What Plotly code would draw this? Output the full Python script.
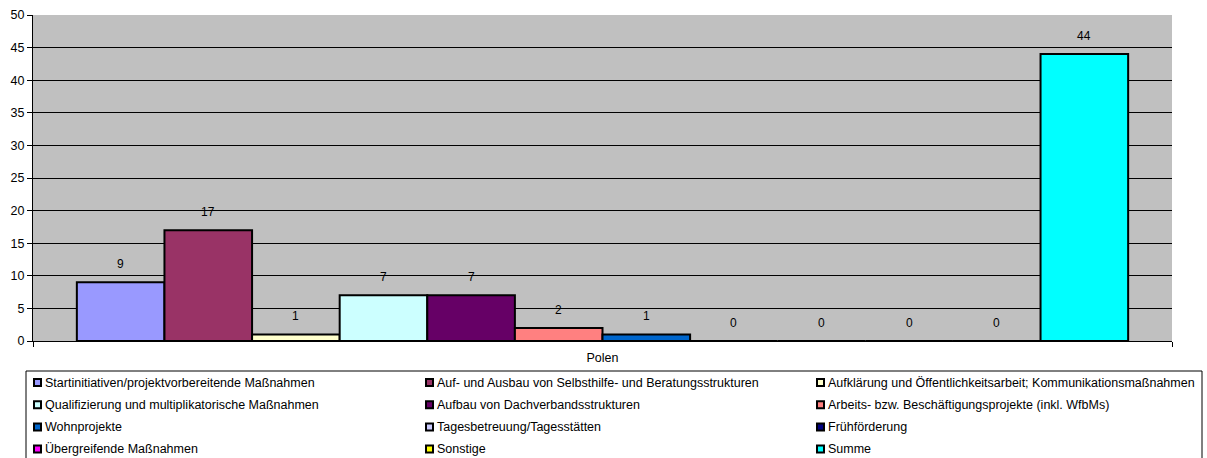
import plotly.graph_objects as go

category = ["Polen"]
series_names = [
    "Startinitiativen/projektvorbereitende Maßnahmen",
    "Auf- und Ausbau von Selbsthilfe- und Beratungsstrukturen",
    "Aufklärung und Öffentlichkeitsarbeit; Kommunikationsmaßnahmen",
    "Qualifizierung und multiplikatorische Maßnahmen",
    "Aufbau von Dachverbandsstrukturen",
    "Arbeits- bzw. Beschäftigungsprojekte (inkl. WfbMs)",
    "Wohnprojekte",
    "Tagesbetreuung/Tagesstätten",
    "Frühförderung",
    "Übergreifende Maßnahmen",
    "Sonstige",
    "Summe",
]
values = [9, 17, 1, 7, 7, 2, 1, 0, 0, 0, 0, 44]
colors = ["#9999FF", "#993366", "#FFFFCC", "#CCFFFF", "#660066", "#FF8080",
          "#0066CC", "#CCCCFF", "#000080", "#FF00FF", "#FFFF00", "#00FFFF"]
y_ticks = [0, 5, 10, 15, 20, 25, 30, 35, 40, 45, 50]

FONT = "Liberation Sans, Arial, sans-serif"
FS = 12.5
BARGAP = 0.077

W, H = 1207, 458
L, R, T, B = 33, 35, 15, 117
PW, PH = W - L - R, H - T - B


def px_x(p):
    return (p - L) / PW


def px_y(p):
    return (H - B - p) / PH


fig = go.Figure()
for name, v, c in zip(series_names, values, colors):
    fig.add_trace(go.Bar(
        x=category, y=[v], name=name, showlegend=False,
        marker=dict(color=c, line=dict(color="black", width=2)),
    ))

# value labels above each bar (group slot centres on the category axis)
n = len(values)
slot = (1 - BARGAP) / n
for i, v in enumerate(values):
    fig.add_annotation(
        x=-0.5 + BARGAP / 2 + slot * (i + 0.5), y=v, xref="x", yref="y",
        text=str(v), showarrow=False, yanchor="bottom", yshift=9,
        font=dict(family=FONT, size=12, color="black"),
    )

# legend box (3 columns, row-major order)
fig.add_shape(type="rect", xref="paper", yref="paper",
              x0=px_x(26), x1=px_x(1202), y0=px_y(371), y1=px_y(475),
              line=dict(color="black", width=1), fillcolor="white", layer="below")
col_x = [33, 425, 816]
row_y0, row_dy = 382.5, 22.2
for i, (name, c) in enumerate(zip(series_names, colors)):
    r, k = divmod(i, 3)
    sx = col_x[k]
    sy = row_y0 + r * row_dy
    fig.add_shape(type="rect", xref="paper", yref="paper",
                  x0=px_x(sx + 1), x1=px_x(sx + 8), y0=px_y(sy - 3.5), y1=px_y(sy + 3.5),
                  line=dict(color="black", width=2), fillcolor=c)
    fig.add_annotation(x=px_x(sx + 10), y=px_y(sy), xref="paper", yref="paper",
                       text=name, showarrow=False, xanchor="left", yanchor="middle",
                       font=dict(family=FONT, size=FS, color="black"))

fig.update_layout(
    width=W, height=H,
    margin=dict(l=L, r=R, t=T, b=B, pad=0, autoexpand=False),
    barmode="group", bargap=BARGAP, bargroupgap=0,
    plot_bgcolor="#C0C0C0", paper_bgcolor="white",
    font=dict(family=FONT, size=FS, color="black"),
    showlegend=False,
    xaxis=dict(
        showline=True, linecolor="black", linewidth=1,
        ticks="outside", tickson="boundaries", ticklen=5, tickcolor="black",
        ticklabelstandoff=5,
        showgrid=False, tickfont=dict(family=FONT, size=FS),
    ),
    yaxis=dict(
        range=[0, 50], tickvals=y_ticks,
        showline=True, linecolor="black", linewidth=1,
        ticks="outside", ticklen=5, tickcolor="black",
        showgrid=True, gridcolor="black", gridwidth=1,
        zeroline=False, tickfont=dict(family=FONT, size=FS),
    ),
)

fig.write_html("out.html")
